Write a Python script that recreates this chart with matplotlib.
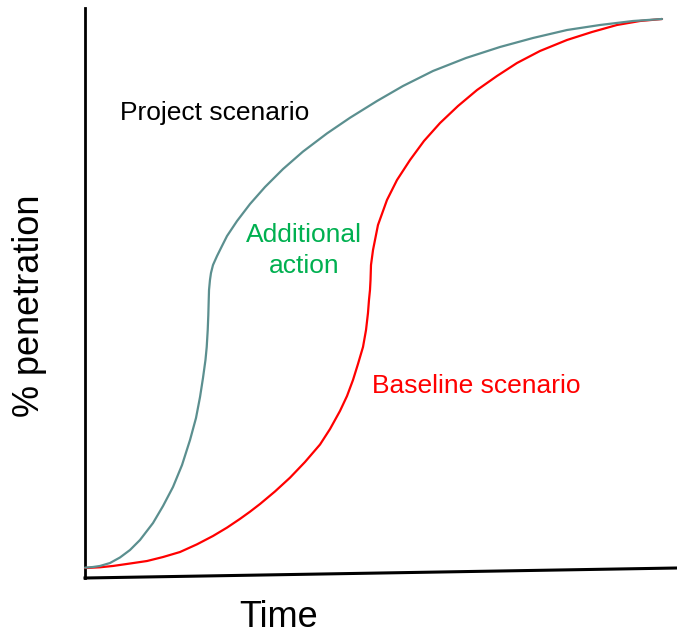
import numpy as np
import matplotlib.pyplot as plt

plt.rcParams['font.family'] = ['Liberation Sans', 'DejaVu Sans']

# project scenario (teal) - time vs % penetration
project_t = [0, 1.35, 2.53, 4.22, 5.91, 7.60, 9.29, 11.49, 13.18, 14.86, 16.39,
             17.74, 18.75, 19.43, 19.93, 20.35, 20.56, 20.73, 20.83, 20.90, 20.95,
             21.11, 21.28, 21.62, 22.30, 23.14, 23.99, 25.68, 27.87, 30.41, 33.45,
             36.82, 40.88, 44.76, 49.32, 53.72, 58.78, 64.36, 70.10, 75.68, 81.42,
             87.00, 92.57, 97.47]
project_p = [1.81, 1.93, 2.11, 2.63, 3.60, 4.91, 6.67, 9.65, 12.63, 15.96, 19.82,
             24.21, 28.07, 31.75, 35.09, 38.25, 40.53, 43.51, 46.14, 48.77, 50.53,
             52.28, 53.51, 54.91, 56.49, 58.25, 60.00, 62.63, 65.61, 68.60, 71.75,
             74.81, 78.00, 80.74, 83.68, 86.32, 88.95, 91.23, 93.16, 94.74, 96.14,
             97.02, 97.72, 98.07]

# baseline scenario (red)
baseline_t = [0, 2.53, 4.73, 7.60, 10.47, 13.18, 16.05, 18.92, 21.62, 23.99, 26.18,
              27.87, 29.56, 32.09, 34.63, 37.16, 39.70, 41.39, 43.07, 44.26, 45.27,
              46.11, 46.96, 47.47, 47.80, 47.97, 48.14, 48.23, 48.31, 48.65, 49.49,
              51.01, 52.70, 54.90, 57.26, 59.97, 63.01, 66.22, 69.59, 72.97, 76.86,
              81.42, 85.64, 89.86, 93.75, 97.47]
baseline_p = [1.75, 1.88, 2.11, 2.54, 2.98, 3.68, 4.56, 5.91, 7.37, 8.84, 10.37,
              11.63, 12.98, 15.18, 17.60, 20.35, 23.42, 26.14, 29.30, 31.93, 34.74,
              37.54, 40.53, 43.51, 46.49, 48.77, 50.53, 52.28, 54.91, 57.54, 61.93,
              66.32, 69.82, 73.33, 76.67, 79.82, 82.81, 85.61, 88.07, 90.35, 92.46,
              94.39, 95.79, 97.02, 97.72, 98.07]

fig = plt.figure(figsize=(6.77, 6.34), dpi=100)
ax = fig.add_axes([85/677, 56/634, 592/677, 570/634])
ax.set_xlim(0, 100)
ax.set_ylim(0, 100)
for s in ax.spines.values():
    s.set_visible(False)
ax.set_xticks([])
ax.set_yticks([])

# axis lines (x axis is slightly tilted in the original)
ax.plot([0, 0], [0, 1], transform=ax.transAxes, color='black', lw=2.0, clip_on=False)
ax.plot([0, 1], [0, 10/570], transform=ax.transAxes, color='black', lw=2.2, clip_on=False)

ax.plot(baseline_t, baseline_p, color='#ff0000', lw=1.6, clip_on=False,
        solid_joinstyle='round', solid_capstyle='round')
ax.plot(project_t, project_p, color='#5b8f8f', lw=1.6, clip_on=False,
        solid_joinstyle='round', solid_capstyle='round')

ax.text(5.9, 80.35, 'Project scenario', fontsize=19, color='black', ha='left', va='baseline')
ax.text(37.0, 59.0, 'Additional', fontsize=19, color='#00b050', ha='center', va='baseline')
ax.text(37.0, 53.5, 'action', fontsize=19, color='#00b050', ha='center', va='baseline')
ax.text(48.5, 32.5, 'Baseline scenario', fontsize=19, color='#ff0000', ha='left', va='baseline')

fig.text(30/677, 1 - 306/634, '% penetration', fontsize=26, rotation=90, ha='center', va='center')
fig.text(279/677, 1 - 627/634, 'Time', fontsize=26, ha='center', va='baseline')

plt.savefig('out.png', dpi=100)
